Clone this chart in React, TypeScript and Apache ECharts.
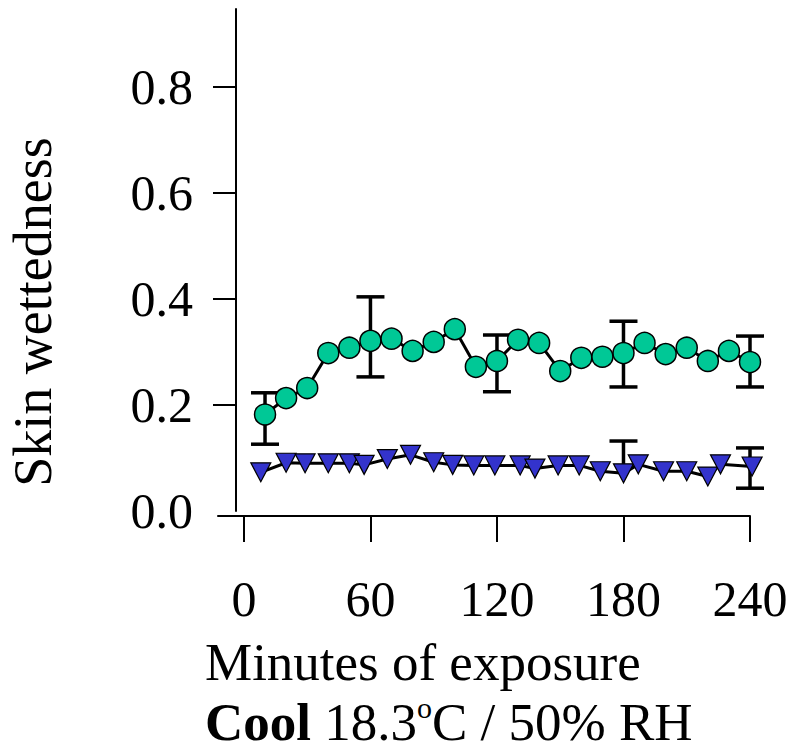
import React, { useEffect, useRef } from "react";
import * as echarts from "echarts";

const xTickValues = [0, 60, 120, 180, 240];
const yLabelValues = [0, 0.2, 0.4, 0.6, 0.8];
const yTickValues = [0.2, 0.4, 0.6, 0.8];

const greenX = [10, 20, 30, 40, 50, 60, 70, 80, 90, 100, 110, 120, 130, 140, 150, 160, 170, 180, 190, 200, 210, 220, 230, 240];
const greenY = [0.182, 0.213, 0.232, 0.298, 0.308, 0.321, 0.325, 0.302, 0.319, 0.343, 0.272, 0.283, 0.323, 0.317, 0.264, 0.289, 0.291, 0.298, 0.317, 0.296, 0.308, 0.283, 0.302, 0.281];

const blueX = [8, 20, 29, 40, 50, 57, 68, 79, 90, 99, 109, 119, 131, 138, 149, 159, 169, 180, 187, 199, 210, 220, 226, 241];
const blueY = [0.073, 0.091, 0.090, 0.090, 0.090, 0.087, 0.098, 0.106, 0.092, 0.087, 0.086, 0.086, 0.086, 0.080, 0.086, 0.086, 0.075, 0.071, 0.088, 0.075, 0.075, 0.065, 0.088, 0.084];

const greenErrX = [10, 60, 120, 180, 240];
const greenErrMean = [0.182, 0.321, 0.283, 0.298, 0.281];
const greenErrLow = [0.126, 0.253, 0.225, 0.234, 0.234];
const greenErrHigh = [0.223, 0.404, 0.332, 0.358, 0.330];

const blueErrX = [180, 240];
const blueErrMean = [0.071, 0.084];
const blueErrLow = [0.071, 0.043];
const blueErrHigh = [0.132, 0.119];

const FONT = "Liberation Serif";

export default function App() {
  const ref = useRef<HTMLDivElement>(null);
  useEffect(() => {
    document.body.style.margin = "0";
    const chart = echarts.init(ref.current!, null, { renderer: "svg" });

    const errData = [
      ...greenErrX.map((x, i) => [x, greenErrMean[i], greenErrLow[i], greenErrHigh[i]]),
      ...blueErrX.map((x, i) => [x, blueErrMean[i], blueErrLow[i], blueErrHigh[i]]),
    ];

    const renderErr = (params: any, api: any) => {
      const x = api.value(0);
      const mean = api.value(1);
      const low = api.value(2);
      const high = api.value(3);
      const pLow = api.coord([x, low]);
      const pHigh = api.coord([x, high]);
      const hw = 14;
      const style = { stroke: "#000", lineWidth: 3.5 };
      const children: any[] = [
        { type: "line", shape: { x1: pHigh[0], y1: pHigh[1], x2: pLow[0], y2: pLow[1] }, style },
      ];
      if (high > mean) {
        children.push({ type: "line", shape: { x1: pHigh[0] - hw, y1: pHigh[1], x2: pHigh[0] + hw, y2: pHigh[1] }, style });
      }
      if (low < mean) {
        children.push({ type: "line", shape: { x1: pLow[0] - hw, y1: pLow[1], x2: pLow[0] + hw, y2: pLow[1] }, style });
      }
      return { type: "group", children };
    };

    chart.setOption({
      animation: false,
      grid: { left: 218, right: 42, top: 9, bottom: 240, containLabel: false },
      xAxis: {
        type: "value",
        min: -12.3,
        max: 240,
        offset: 5,
        splitLine: { show: false },
        axisLine: { show: true, onZero: false, lineStyle: { color: "#000", width: 2 } },
        axisTick: { show: true, length: 26, customValues: xTickValues, lineStyle: { color: "#000", width: 2 } },
        axisLabel: {
          customValues: xTickValues,
          margin: 58,
          fontSize: 50,
          fontFamily: FONT,
          color: "#000",
        },
      },
      yAxis: {
        type: "value",
        min: 0,
        max: 0.947,
        offset: -18,
        splitLine: { show: false },
        axisLine: { show: true, onZero: false, lineStyle: { color: "#000", width: 2 } },
        axisTick: { show: true, length: 23, customValues: yTickValues, lineStyle: { color: "#000", width: 2 } },
        axisLabel: {
          customValues: yLabelValues,
          margin: 43,
          fontSize: 50,
          fontFamily: FONT,
          color: "#000",
          formatter: (v: number) => v.toFixed(1),
        },
      },
      graphic: [
        {
          type: "text",
          x: 33,
          y: 312,
          rotation: Math.PI / 2,
          style: {
            text: "Skin wettedness",
            font: `54px "${FONT}"`,
            fill: "#000",
            align: "center",
            verticalAlign: "middle",
          },
        },
        {
          type: "text",
          x: 205,
          y: 662,
          style: {
            text: "Minutes of exposure",
            font: `53px "${FONT}"`,
            fill: "#000",
            align: "left",
            verticalAlign: "middle",
          },
        },
        {
          type: "text",
          x: 205,
          y: 722,
          style: {
            text: "{b|Cool}{n| 18.3}{s|o}{n|C / 50% RH}",
            align: "left",
            verticalAlign: "middle",
            rich: {
              b: { fontFamily: FONT, fontSize: 53, fontWeight: "bold", fill: "#000", lineHeight: 60 },
              n: { fontFamily: FONT, fontSize: 53, fill: "#000", lineHeight: 60 },
              s: { fontFamily: FONT, fontSize: 30, fill: "#000", lineHeight: 60, verticalAlign: "top" },
            },
          },
        },
      ],
      series: [
        {
          type: "custom",
          z: 1,
          clip: false,
          renderItem: renderErr,
          encode: { x: 0, y: [2, 3] },
          data: errData,
        },
        {
          type: "line",
          z: 3,
          clip: false,
          data: greenX.map((x, i) => [x, greenY[i]]),
          symbol: "circle",
          symbolSize: 21,
          lineStyle: { color: "#000", width: 3 },
          itemStyle: { color: "#00C896", borderColor: "#000", borderWidth: 1.5 },
        },
        {
          type: "line",
          z: 2,
          clip: false,
          data: blueX.map((x, i) => [x, blueY[i]]),
          symbol: "triangle",
          symbolRotate: 180,
          symbolSize: [20, 19],
          lineStyle: { color: "#000", width: 3 },
          itemStyle: { color: "#3333CC", borderColor: "#000", borderWidth: 1.2 },
        },
      ],
    });
    return () => chart.dispose();
  }, []);
  return <div ref={ref} style={{ width: 792, height: 751 }} />;
}
